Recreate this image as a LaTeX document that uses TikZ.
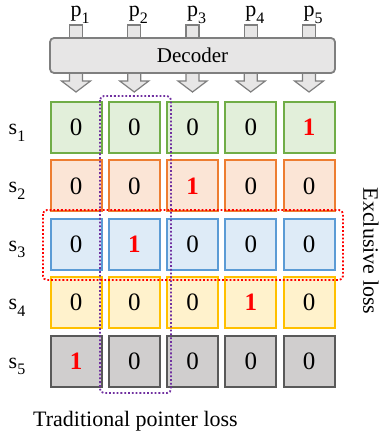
\documentclass[tikz,border=0pt]{standalone}
\usepackage{fontspec}
\setmainfont{Liberation Serif}
\definecolor{gfill}{HTML}{E2EFDA}\definecolor{gline}{HTML}{70AD47}
\definecolor{ofill}{HTML}{FBE5D6}\definecolor{oline}{HTML}{ED7D31}
\definecolor{bfill}{HTML}{DEEBF7}\definecolor{bline}{HTML}{5B9BD5}
\definecolor{yfill}{HTML}{FFF2CC}\definecolor{yline}{HTML}{FFC000}
\definecolor{kfill}{HTML}{D0CECE}\definecolor{kline}{HTML}{595959}
\definecolor{decfill}{HTML}{E7E6E6}\definecolor{decline}{HTML}{7F7F7F}
\definecolor{purp}{HTML}{7030A0}
\newcommand\mysub[1]{\raisebox{-0.3em}{\fontsize{16}{16}\selectfont #1}}
\newcommand\one{\textcolor{red}{\textbf{1}}}
\begin{document}
\begin{tikzpicture}[x=1pt,y=-1pt,
  cell/.style={draw, line width=2pt, minimum size=51pt, inner sep=0pt, font=\fontsize{25}{25}\selectfont},
  r1/.style={cell, fill=gfill, draw=gline},
  r2/.style={cell, fill=ofill, draw=oline},
  r3/.style={cell, fill=bfill, draw=bline},
  r4/.style={cell, fill=yfill, draw=yline},
  r5/.style={cell, fill=kfill, draw=kline},
  lab/.style={font=\fontsize{22}{22}\selectfont, inner sep=0pt},
  stub/.style={draw=decline, fill=decfill, line width=1.2pt},
  dec/.style={draw=decline, fill=decfill, line width=1.8pt, rounded corners=4pt, minimum width=285pt, minimum height=35pt, inner sep=0pt, font=\fontsize{21}{21}\selectfont},
  sel/.style={dotted, line width=1.8pt, rounded corners=4pt}
]
\useasboundingbox (0,0) rectangle (384,436);
% input stubs
\foreach \i in {1,...,5}{
  \pgfmathsetmacro\xx{76+58.25*(\i-1)}
  \draw[stub] (\xx-6.5,25) rectangle (\xx+6.5,40);
  \node[lab, anchor=base] (p\i) at (\xx+4,17) {p\mysub{\i}};
}
\node[dec] (dec) at (192.5,55.5) {Decoder};
% output arrows
\foreach \i in {1,...,5}{
  \pgfmathsetmacro\xx{76+58.25*(\i-1)}
  \draw[stub, line join=miter] (\xx-6.5,74) -- (\xx-6.5,81) -- (\xx-14.5,81) -- (\xx,92) -- (\xx+14.5,81) -- (\xx+6.5,81) -- (\xx+6.5,74);
}
% cells
\def\vals{{{0,0,0,0,1},{0,0,1,0,0},{0,1,0,0,0},{0,0,0,1,0},{1,0,0,0,0}}}
\foreach \r in {1,...,5}{
  \pgfmathsetmacro\yy{127.5+58.4*(\r-1)}
  \node[lab, anchor=base] (s\r) at (17,\yy+7) {s\mysub{\r}};
  \foreach \c in {1,...,5}{
    \pgfmathsetmacro\xx{76+58.25*(\c-1)}
    \pgfmathtruncatemacro\v{\vals[\r-1][\c-1]}
    \ifnum\v=1
      \node[r\r] (c\r\c) at (\xx,\yy) {\one};
    \else
      \node[r\r] (c\r\c) at (\xx,\yy) {0};
    \fi
  }
}
% selections
\draw[sel, draw=purp] (100,96) rectangle (171,393);
\draw[sel, draw=red] (43,210) rectangle (343,280);
\node[lab, anchor=base west] (trad) at (33,426) {Traditional pointer loss};
\node[lab, rotate=-90] (excl) at (371,251) {Exclusive loss};
\end{tikzpicture}
\end{document}
